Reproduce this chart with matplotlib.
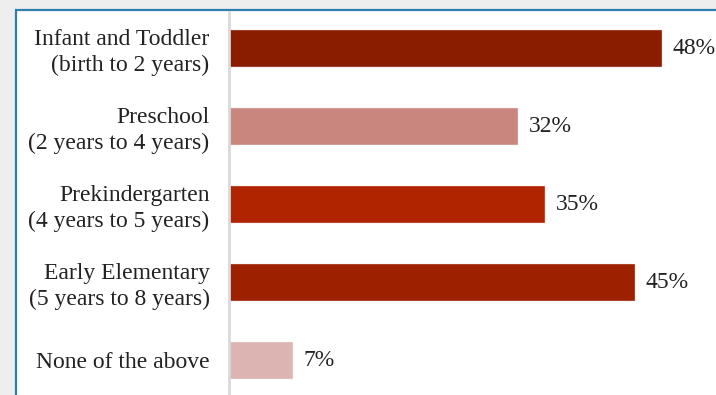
import matplotlib.pyplot as plt
from matplotlib.patches import Rectangle

# Age groups served and share of respondents
categories = [
    "Infant and Toddler\n(birth to 2 years)",
    "Preschool\n(2 years to 4 years)",
    "Prekindergarten\n(4 years to 5 years)",
    "Early Elementary\n(5 years to 8 years)",
    "None of the above",
]
percents = [48, 32, 35, 45, 7]
bar_colors = ["#8a1c00", "#c8867f", "#b02400", "#9d2000", "#dcb4b2"]

plt.rcParams["font.family"] = ["Liberation Serif", "DejaVu Serif"]

W, H = 716, 395
fig = plt.figure(figsize=(W / 100, H / 100), dpi=100)
fig.patch.set_facecolor("#eeeeee")

# white panel with a blue frame along the top and left
panel = Rectangle((16 / W, -0.1), 1.2, (H - 10) / H + 0.1,
                  transform=fig.transFigure, facecolor="white",
                  edgecolor="#2f7fae", linewidth=1.6, zorder=-1)
fig.patches.append(panel)

top_px, unit_px, first_px = 12, 78, 48
ax = fig.add_axes([229 / W, 0, 468 / W, (H - top_px) / H])
ax.set_facecolor("none")

y = list(range(len(categories)))
ax.barh(y, percents, height=0.46, color=bar_colors,
        edgecolor=[c + "aa" for c in bar_colors], linewidth=0.8)

for yi, v in zip(y, percents):
    ax.text(v + 1.3, yi, f"{v}%", va="center", ha="left",
            fontsize=17, color="#222222")

ax.set_xlim(0, 52)
ax.set_ylim((H - first_px) / unit_px, -(first_px - top_px) / unit_px)
ax.set_yticks(y)
ax.set_yticklabels(categories, fontsize=17, color="#222222",
                   linespacing=1.25)
ax.tick_params(axis="y", length=0, pad=14)
ax.set_xticks([])

for side in ["top", "right", "bottom"]:
    ax.spines[side].set_visible(False)
ax.spines["left"].set_color("#d9d9d9")
ax.spines["left"].set_linewidth(2)

fig.savefig("out.png", dpi=100)
